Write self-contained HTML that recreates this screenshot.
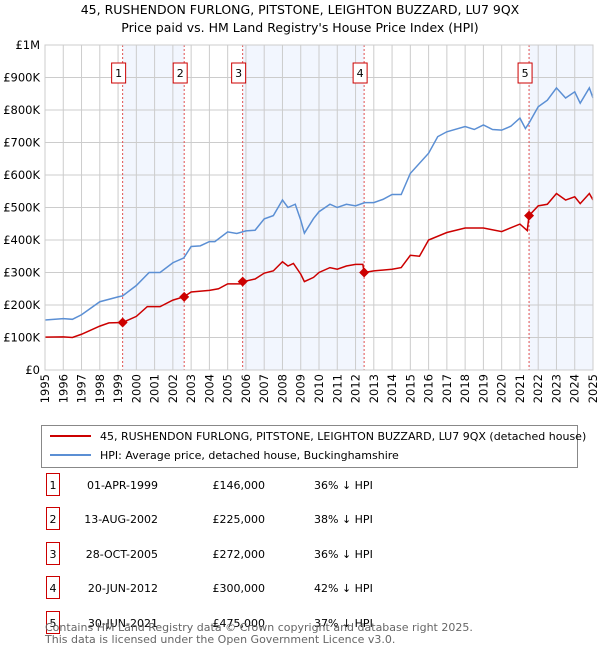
<!DOCTYPE html>
<html><head><meta charset="utf-8"><style>
body{margin:0;background:#fff;font-family:"Liberation Sans","DejaVu Sans",sans-serif;}
#wrap{position:relative;width:600px;height:650px;overflow:hidden;}
svg text{font-family:"DejaVu Sans","Liberation Sans",sans-serif;}
</style></head><body><div id="wrap">
<svg id="chart" width="600" height="650"></svg>
</div>
<script>
const hpiYears=[1995,1996,1996.5,1997,1998,1999,1999.25,2000,2000.7,2001.3,2002,2002.6,2003,2003.5,2004,2004.3,2005,2005.5,2006,2006.5,2007,2007.5,2008,2008.3,2008.7,2009,2009.2,2009.7,2010,2010.6,2011,2011.5,2012,2012.5,2013,2013.5,2014,2014.5,2015,2016,2016.5,2017,2018,2018.5,2019,2019.5,2020,2020.5,2021,2021.3,2021.5,2022,2022.5,2023,2023.5,2024,2024.3,2024.8,2025];
const hpiValues=[154000,158000,156000,170000,210000,225000,228000,260000,300000,300000,330000,345000,380000,382000,395000,395000,425000,420000,428000,430000,465000,475000,523000,500000,510000,461000,421000,466000,487000,510000,500000,510000,505000,515000,515000,525000,540000,540000,605000,667000,718000,733000,749000,740000,754000,740000,738000,750000,775000,743000,760000,810000,830000,868000,837000,856000,821000,868000,837000];
const paidYears=[1995,1996,1996.5,1997,1998,1998.5,1999.25,2000,2000.6,2001.3,2002,2002.6,2003,2004,2004.5,2005,2005.8,2005.85,2006.5,2007,2007.5,2008,2008.3,2008.6,2009,2009.2,2009.7,2010,2010.6,2011,2011.5,2012,2012.4,2012.47,2013,2014,2014.5,2015,2015.5,2016,2017,2018,2019,2020,2021,2021.4,2021.5,2022,2022.5,2023,2023.5,2024,2024.3,2024.8,2025];
const paidValues=[101000,102000,100000,110000,135000,145000,146000,165000,195000,195000,215000,225000,240000,245000,250000,265000,265000,272000,280000,298000,305000,333000,320000,328000,295000,272000,285000,300000,315000,310000,320000,325000,325000,300000,305000,310000,315000,353000,350000,400000,423000,437000,437000,426000,449000,429000,475000,505000,510000,543000,523000,533000,512000,543000,523000];
const saleLabels=["1","2","3","4","5"];
const saleYears=[1999.25,2002.62,2005.82,2012.47,2021.5];
const salePrices=[146000,225000,272000,300000,475000];
const saleDates=["01-APR-1999","13-AUG-2002","28-OCT-2005","20-JUN-2012","30-JUN-2021"];
const salePriceText=["£146,000","£225,000","£272,000","£300,000","£475,000"];
const saleHpiText=["36% ↓ HPI","38% ↓ HPI","36% ↓ HPI","42% ↓ HPI","37% ↓ HPI"];
const yTicks=[0,100000,200000,300000,400000,500000,600000,700000,800000,900000,1000000];
const yTickLabels=["£0","£100K","£200K","£300K","£400K","£500K","£600K","£700K","£800K","£900K","£1M"];

const NS="http://www.w3.org/2000/svg";
const svg=document.getElementById('chart');
const X0=45,X1=593,Y0=370,Y1=45;
const xs=y=>X0+(y-1995)/30*(X1-X0);
const ys=v=>Y0-v/1000000*(Y0-Y1);
function mk(tag,attrs,parent){const e=document.createElementNS(NS,tag);for(const k in attrs)e.setAttribute(k,attrs[k]);(parent||svg).appendChild(e);return e;}
function txt(s,attrs,parent){const e=mk('text',attrs,parent);e.textContent=s;return e;}

// title
let t=txt("45, RUSHENDON FURLONG, PITSTONE, LEIGHTON BUZZARD, LU7 9QX",{x:300,y:14,'text-anchor':'middle','font-size':12.5,fill:'#000'});


t=txt("Price paid vs. HM Land Registry's House Price Index (HPI)",{x:300,y:32,'text-anchor':'middle','font-size':12.5,fill:'#000'});



// shading
const shadePairs=[[0,1],[2,3],[4,-1]];
shadePairs.forEach(p=>{const a=xs(saleYears[p[0]]);const b=p[1]<0?X1:xs(saleYears[p[1]]);
const r=mk('rect',{x:a,y:Y1,width:b-a,height:Y0-Y1,fill:'#eef3fd',opacity:0.75});

});

// grid
for(let yr=1995;yr<=2025;yr++){const l=mk('line',{x1:xs(yr),x2:xs(yr),y1:Y1,y2:Y0,stroke:'#cccccc','stroke-width':1});


const tl=txt(String(yr),{transform:`translate(${xs(yr)+4},${Y0+4}) rotate(-90)`,'text-anchor':'end','font-size':11.5,fill:'#000'});

}
yTicks.forEach((v,i)=>{const l=mk('line',{x1:X0,x2:X1,y1:ys(v),y2:ys(v),stroke:'#cccccc','stroke-width':1});


const tl=txt(yTickLabels[i],{x:40,y:ys(v)+4,'text-anchor':'end','font-size':11.5,fill:'#000'});

});

// sale lines
saleYears.forEach((yr,i)=>{const l=mk('line',{x1:xs(yr),x2:xs(yr),y1:Y1,y2:Y0,stroke:'#e05050','stroke-width':1,'stroke-dasharray':'2,2'});

});

// series
const hp=mk('polyline',{points:hpiYears.map((y,i)=>xs(y)+','+ys(hpiValues[i])).join(' '),fill:'none',stroke:'#5b8fd4','stroke-width':1.5});


const pp=mk('polyline',{points:paidYears.map((y,i)=>xs(y)+','+ys(paidValues[i])).join(' '),fill:'none',stroke:'#cc0000','stroke-width':1.5});



saleYears.forEach((yr,i)=>{const cx=xs(yr),cy=ys(salePrices[i]);
const d=mk('path',{d:`M${cx},${cy-5}L${cx+5},${cy}L${cx},${cy+5}L${cx-5},${cy}Z`,fill:'#cc0000'});


const g=mk('g',{});


mk('rect',{x:cx-11,y:63,width:14,height:20,fill:'#fff',stroke:'#cc0000','stroke-width':1},g);
txt(saleLabels[i],{x:cx-4,y:77,'text-anchor':'middle','font-size':11,fill:'#000'},g);});

// axis frame
const fr=mk('rect',{x:X0,y:Y1,width:X1-X0,height:Y0-Y1,fill:'none',stroke:'#cccccc'});



// legend
const lg=mk('g',{});


mk('rect',{x:41.5,y:425.5,width:536,height:42,fill:'#fff',stroke:'#888'},lg);
mk('line',{x1:50,x2:91,y1:436,y2:436,stroke:'#cc0000','stroke-width':2},lg);
txt("45, RUSHENDON FURLONG, PITSTONE, LEIGHTON BUZZARD, LU7 9QX (detached house)",{x:100,y:440,'font-size':11,fill:'#000'},lg);
mk('line',{x1:50,x2:91,y1:455,y2:455,stroke:'#5b8fd4','stroke-width':2},lg);
txt("HPI: Average price, detached house, Buckinghamshire",{x:100,y:459,'font-size':11,fill:'#000'},lg);

// table
const rowY=[485,519,554,588,623];
saleLabels.forEach((s,i)=>{const g=mk('g',{});


const y=rowY[i];
mk('rect',{x:46.5,y:y-11.5,width:13,height:22,fill:'#fff',stroke:'#cc0000'},g);
txt(s,{x:53,y:y+4,'text-anchor':'middle','font-size':11,fill:'#000'},g);
txt(saleDates[i],{x:158,y:y+4,'text-anchor':'end','font-size':11,fill:'#000'},g);
txt(salePriceText[i],{x:265,y:y+4,'text-anchor':'end','font-size':11,fill:'#000'},g);
txt(saleHpiText[i],{x:314,y:y+4,'font-size':11,fill:'#000'},g);});

t=txt("Contains HM Land Registry data © Crown copyright and database right 2025.",{x:45,y:631,'font-size':11,fill:'#666'});


t=txt("This data is licensed under the Open Government Licence v3.0.",{x:45,y:643,'font-size':11,fill:'#666'});


</script></body></html>
